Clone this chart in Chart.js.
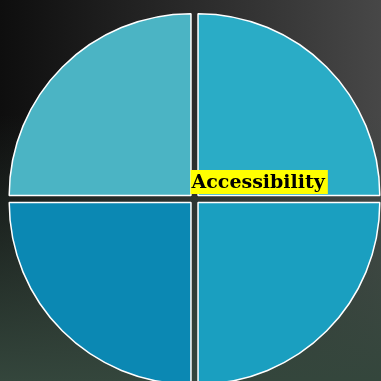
<!DOCTYPE html>
<html>
<head>
<meta charset="utf-8">
<script src="https://cdn.jsdelivr.net/npm/chart.js@4.4.0/dist/chart.umd.min.js"></script>
<style>
  html, body {
    margin: 0;
    padding: 0;
    width: 381px;
    height: 381px;
    overflow: hidden;
    background:
      linear-gradient(to bottom, rgba(52, 70, 60, 0) 30%, rgba(52, 70, 60, 1) 100%),
      linear-gradient(to right, #0e0e0e 0%, #2a2a2a 50%, #474747 100%);
  }
  .wrap {
    position: absolute;
    left: -10px;
    top: 0;
    width: 400px;
    height: 410px;
  }
</style>
</head>
<body>
<div class="wrap"><canvas id="pie"></canvas></div>
<script>
// four equal quarters, clockwise from the top
const labels = ["Q1", "Q2", "Q3", "Accessibility"];
const values = [25, 25, 25, 25];
const sliceColors = ["#2aacc6", "#1a9fc0", "#0b88b3", "#4bb4c4"];
const centerLabel = "Accessibility";

const centerLabelPlugin = {
  id: "centerLabel",
  afterDatasetsDraw(chart) {
    const arc = chart.getDatasetMeta(0).data[0];
    if (!arc) return;
    const ctx = chart.ctx;
    const cx = arc.x;
    const cy = arc.y;
    ctx.save();
    ctx.font = "bold 19px 'DejaVu Serif'";
    const w = ctx.measureText(centerLabel).width;
    const x = cx - 4;
    const y = cy - 29;
    ctx.fillStyle = "#ffff00";
    ctx.fillRect(x, y, w + 4, 24);
    ctx.fillStyle = "#000";
    ctx.textBaseline = "middle";
    ctx.fillText(centerLabel, x + 1, y + 13);
    ctx.restore();
  }
};

new Chart(document.getElementById("pie"), {
  type: "pie",
  data: {
    labels,
    datasets: [
      {
        data: values,
        backgroundColor: sliceColors,
        borderColor: "#ffffff",
        borderWidth: 1.5,
        offset: 20
      }
    ]
  },
  options: {
    responsive: true,
    maintainAspectRatio: false,
    animation: false,
    layout: {
      padding: { left: 12, right: 3, top: 6, bottom: 18 }
    },
    plugins: {
      legend: { display: false },
      tooltip: { enabled: false }
    }
  },
  plugins: [centerLabelPlugin]
});
</script>
</body>
</html>
